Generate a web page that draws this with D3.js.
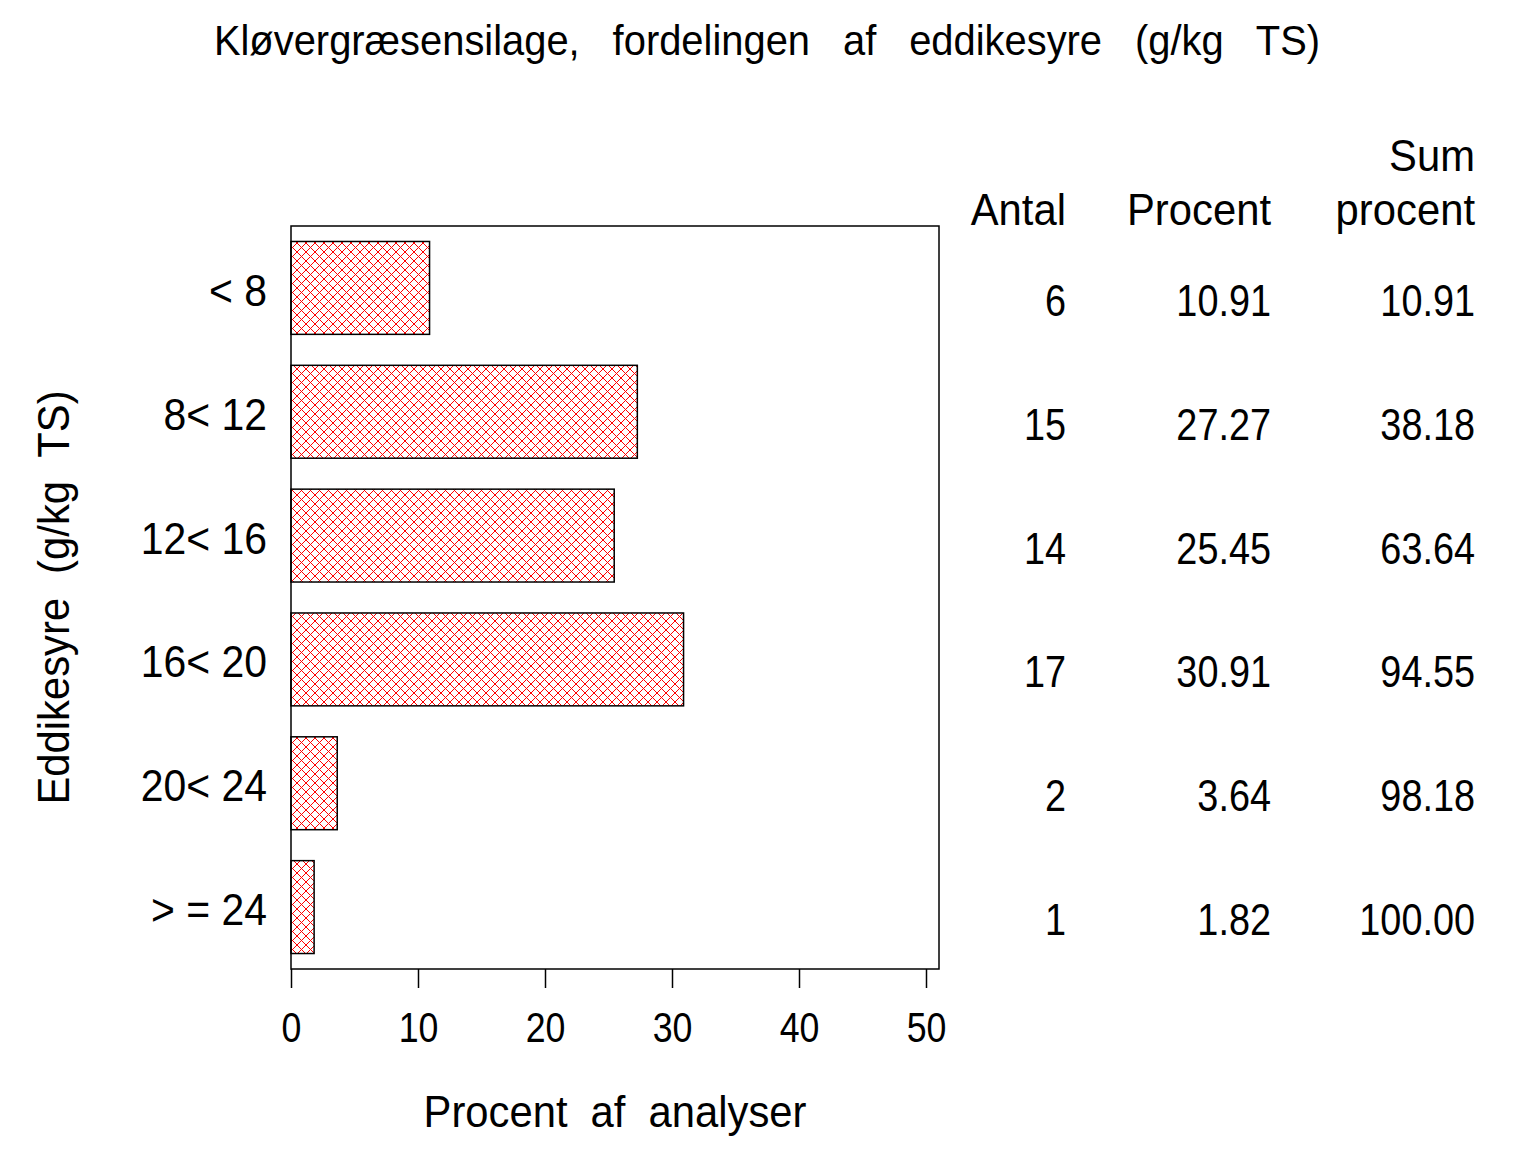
<!DOCTYPE html>
<html>
<head>
<meta charset="utf-8">
<script src="https://cdn.jsdelivr.net/npm/d3@7"></script>
<style>
  body { margin: 0; background: #fff; }
  text { font-family: "Liberation Sans", Arial, sans-serif; fill: #000; }
</style>
</head>
<body>
<script>
// data
var categories = ["< 8", "8< 12", "12< 16", "16< 20", "20< 24", "> = 24"];
var antal = [6, 15, 14, 17, 2, 1];
var procent = [10.91, 27.27, 25.45, 30.91, 3.64, 1.82];
var sumProcent = [10.91, 38.18, 63.64, 94.55, 98.18, 100.00];
var xTicks = [0, 10, 20, 30, 40, 50];

d3.select(window).on("load", init);

function init() {
    var w = 1536, h = 1152;
    var pLeft = 291, pRight = 939, pTop = 226, pBottom = 969;

    var svg = d3.select("body").append("svg")
        .attr("width", w)
        .attr("height", h);

    // crosshatch fill
    var pat = svg.append("defs").append("pattern")
        .attr("id", "hatch")
        .attr("patternUnits", "userSpaceOnUse")
        .attr("width", 9)
        .attr("height", 9);
    pat.append("path")
        .attr("d", "M0,0L9,9M9,0L0,9")
        .attr("stroke", "#ff0000")
        .attr("stroke-width", 1)
        .attr("shape-rendering", "crispEdges")
        .attr("fill", "none");

    var x = d3.scaleLinear()
        .domain([0, 50])
        .range([pLeft, 926]);

    var y = d3.scaleBand()
        .domain(categories)
        .range([pTop, pBottom])
        .paddingInner(0.25)
        .paddingOuter(0.125);

    // text helper: the original font is narrower than Liberation Sans
    function label(px, py, sx, size, anchor, str, rot) {
        return svg.append("text")
            .attr("transform", "translate(" + px + "," + py + ")" + (rot ? " rotate(" + rot + ")" : "") + " scale(" + sx + ",1)")
            .attr("text-anchor", anchor)
            .style("font-size", size + "px")
            .text(str);
    }

    // title
    label(767, 55, 0.95, 42, "middle", "Kløvergræsensilage, fordelingen af eddikesyre (g/kg TS)")
        .style("word-spacing", "23px");

    // bars
    svg.selectAll("rect.bar")
        .data(procent)
        .enter()
        .append("rect")
        .attr("class", "bar")
        .attr("x", x(0))
        .attr("y", function (d, i) { return y(categories[i]); })
        .attr("width", function (d) { return x(d) - x(0); })
        .attr("height", y.bandwidth())
        .attr("fill", "url(#hatch)")
        .attr("stroke", "#000")
        .attr("stroke-width", 1.5);

    // frame
    svg.append("rect")
        .attr("x", pLeft)
        .attr("y", pTop)
        .attr("width", pRight - pLeft)
        .attr("height", pBottom - pTop)
        .attr("fill", "none")
        .attr("stroke", "#000")
        .attr("stroke-width", 1.5);

    // x axis
    var xAxis = svg.append("g")
        .attr("transform", "translate(0," + pBottom + ")")
        .call(d3.axisBottom(x).tickValues(xTicks).tickSize(19).tickPadding(24).tickSizeOuter(0));
    xAxis.select(".domain").remove();
    xAxis.selectAll("line").attr("stroke-width", 1.5);
    xAxis.selectAll("text")
        .attr("transform", "scale(0.85,1)")
        .style("font-size", "42px")
        .style("font-family", "'Liberation Sans', Arial, sans-serif");

    // y axis labels
    var ySx = 0.93;
    var yAxis = svg.append("g")
        .attr("transform", "translate(" + pLeft + ",0)")
        .call(d3.axisLeft(y).tickSize(0).tickPadding(24));
    yAxis.select(".domain").remove();
    yAxis.selectAll("text")
        .attr("x", -24 / ySx)
        .attr("dy", "0.41em")
        .attr("transform", "scale(" + ySx + ",1)")
        .style("font-size", "44px")
        .style("font-family", "'Liberation Sans', Arial, sans-serif");

    // axis titles
    label((pLeft + pRight) / 2, 1127, 0.95, 44, "middle", "Procent af analyser")
        .style("word-spacing", "12px");

    label(69, (pTop + pBottom) / 2, 0.95, 44, "middle", "Eddikesyre (g/kg TS)", -90)
        .style("word-spacing", "13px");

    // table at the right
    var cols = [
        { x: 1066, head: ["", "Antal"], vals: antal, fmt: d3.format("d") },
        { x: 1271, head: ["", "Procent"], vals: procent, fmt: d3.format(".2f") },
        { x: 1475, head: ["Sum", "procent"], vals: sumProcent, fmt: d3.format(".2f") }
    ];

    cols.forEach(function (c) {
        c.head.forEach(function (t, j) {
            if (t) label(c.x, 171 + j * 54, 0.95, 44, "end", t);
        });
        c.vals.forEach(function (d, i) {
            label(c.x, y(categories[i]) + y.bandwidth() / 2 + 28, 0.86, 44, "end", c.fmt(d));
        });
    });
}
</script>
</body>
</html>
